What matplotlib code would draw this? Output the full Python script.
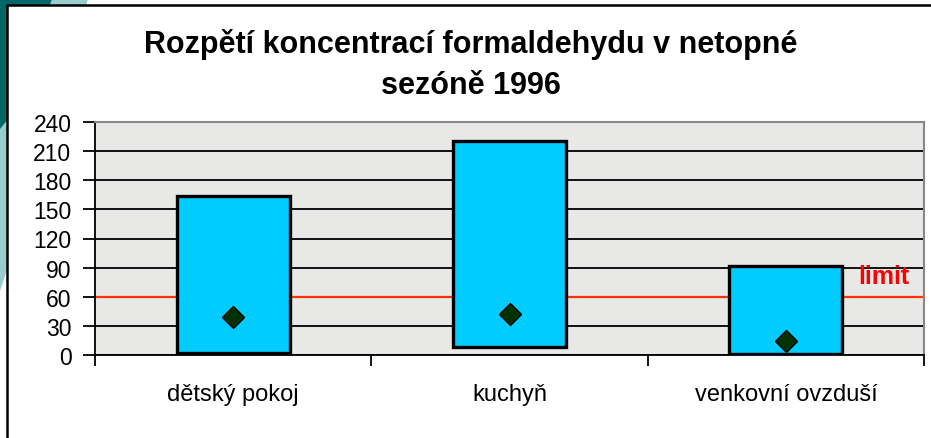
import matplotlib.pyplot as plt
from matplotlib.patches import Polygon, Rectangle

plt.rcParams['font.family'] = ['Liberation Sans', 'DejaVu Sans']

places = ['dětský pokoj', 'kuchyň', 'venkovní ovzduší']
conc_min = [2, 8, 1]
conc_max = [164, 220, 92]
conc_mean = [39, 42, 14]
limit = 60
yticks = [0, 30, 60, 90, 120, 150, 180, 210, 240]

W, H = 931, 439
fig = plt.figure(figsize=(W / 100, H / 100), dpi=100)
fig.patch.set_facecolor('white')


def px(x, y):
    # pixel coords (origin top-left) -> figure fraction
    return [x / W, 1 - y / H]


# teal slide decoration on the left edge
fig.patches.append(Polygon([px(0, 0), px(88, 0), px(30, 200), px(0, 292)],
                           closed=True, transform=fig.transFigure,
                           facecolor='#99cccc', edgecolor='none', zorder=0))
fig.patches.append(Polygon([px(0, 0), px(52, 0), px(12, 115), px(0, 130)],
                           closed=True, transform=fig.transFigure,
                           facecolor='#006666', edgecolor='none', zorder=0))
fig.patches.append(Rectangle(px(7, 460), 1.0, (460 - 6) / H, transform=fig.transFigure,
                             facecolor='white', edgecolor='black', linewidth=1.8, zorder=1))

ax = fig.add_axes([95 / W, 83 / H, 829 / W, 233 / H])
ax.set_facecolor('#e8e8e6')
ax.set_zorder(2)

x = list(range(len(places)))
heights = [hi - lo for hi, lo in zip(conc_max, conc_min)]
ax.bar(x, heights, bottom=conc_min, width=0.41, color='#00ccff',
       edgecolor='black', linewidth=2.4, zorder=3)
ax.plot(x, conc_mean, linestyle='none', marker='D', markersize=11,
        markerfacecolor='#003300', markeredgecolor='black', markeredgewidth=1, zorder=4)

ax.axhline(limit, color='#ff3300', linewidth=1.6, zorder=2.5)
ax.text(2.448, limit + 21, 'limit', color='red', fontsize=18, fontweight='bold',
        ha='right', va='center', zorder=5)

ax.set_xlim(-0.5, 2.5)
ax.set_ylim(0, 240)
ax.set_yticks(yticks)
ax.yaxis.grid(True, color='black', linewidth=1.3)
ax.set_axisbelow(True)
ax.tick_params(axis='y', labelsize=16.5, length=9, width=1.3, pad=8)

ax.set_xticks(x)
ax.set_xticklabels(places, fontsize=17)
ax.set_xticks([-0.5, 0.5, 1.5, 2.5], minor=True)
ax.tick_params(axis='x', which='major', length=0, pad=20)
ax.tick_params(axis='x', which='minor', length=8, width=1.3)

for s in ['top', 'right']:
    ax.spines[s].set_color('#888888')
    ax.spines[s].set_linewidth(1.5)
ax.spines['left'].set_linewidth(1.3)
ax.spines['bottom'].set_linewidth(1.3)

fig.text(0.506, 1 - 53 / H, 'Rozpětí koncentrací formaldehydu v netopné',
         ha='center', va='baseline', fontsize=22, fontweight='bold', zorder=5)
fig.text(0.506, 1 - 94 / H, 'sezóně 1996',
         ha='center', va='baseline', fontsize=22, fontweight='bold', zorder=5)

fig.savefig('out.png', dpi=100)
